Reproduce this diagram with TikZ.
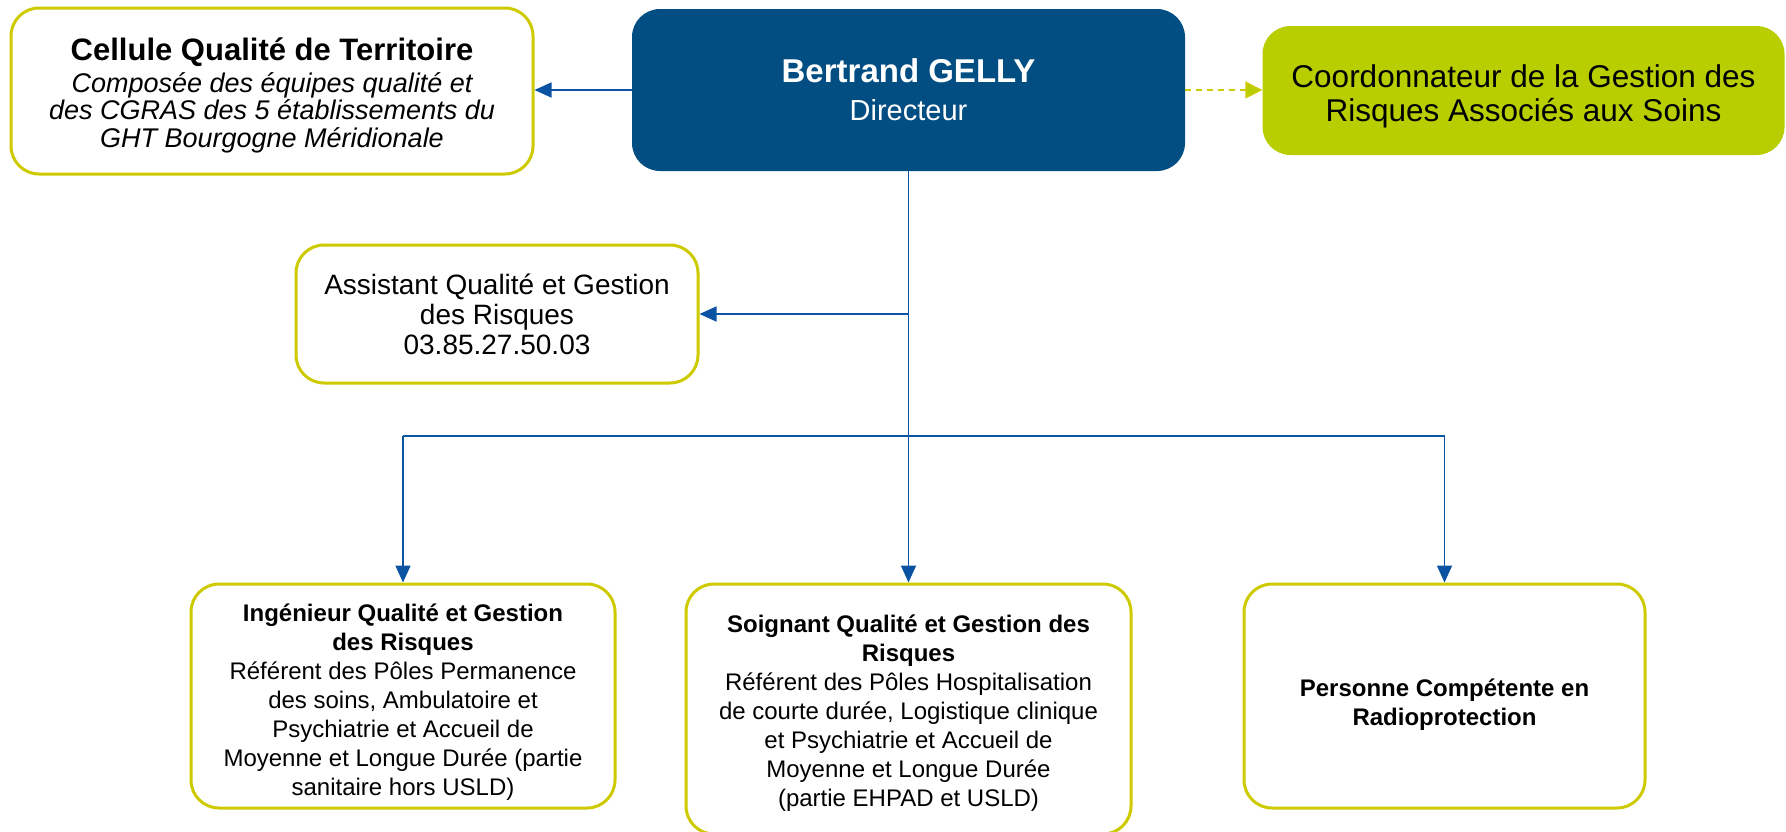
\documentclass[tikz,border=0pt]{standalone}
\usepackage{fontspec}
\setmainfont{Liberation Sans}
\usepackage{xcolor}
\usetikzlibrary{
	arrows.meta,
	positioning
}

\definecolor{dirblue}{RGB}{2,78,130}
\definecolor{lime}{RGB}{184,206,0}
\definecolor{rimyellow}{RGB}{205,202,0}
\definecolor{linkblue}{RGB}{10,82,162}

% taller first line, pushes the text block down a little
\newcommand{\pad}[1]{\rule{0pt}{#1pt}}

\tikzset{
	box/.style={draw=rimyellow, line width=3pt, fill=white, rounded corners=28pt,
		align=center, inner sep=0pt},
	small/.style={font=\fontsize{24}{29}\selectfont},
	link/.style={draw=linkblue, line width=1.6pt,
		-{Triangle[length=17pt, width=15pt]}},
	trunk/.style={draw=linkblue, line width=1.6pt},
	hint/.style={draw=rimyellow, line width=1.6pt, dash pattern=on 6pt off 5pt,
		-{Triangle[length=17pt, width=17pt, fill=lime]}}
}

\begin{document}
\begin{tikzpicture}[x=1pt, y=-1pt]
				\def\busy{436}

				\useasboundingbox (0, 0) rectangle (1786, 831) ;
				\clip (0, 0) rectangle (1786, 831) ;

				\node[box, minimum width=522pt, minimum height=166pt,
					font=\fontsize{27}{27.5}\selectfont\itshape] (cellule) at (272, 91)
					{{\fontsize{31}{27.5}\selectfont\bfseries\upshape\pad{32}Cellule Qualité de Territoire}\\[4pt]
					 Composée des équipes qualité et\\
					 des CGRAS des 5 établissements du\\
					 GHT Bourgogne Méridionale} ;
				\node[fill=dirblue, text=white, rounded corners=28pt, align=center, inner sep=0pt,
					minimum width=553pt, minimum height=162pt,
					font=\fontsize{29}{38}\selectfont] (dir) at (908.5, 90)
					{{\fontsize{33}{38}\selectfont\bfseries Bertrand GELLY}\\
					 Directeur} ;
				\node[fill=lime, rounded corners=28pt, align=center, inner sep=0pt,
					minimum width=522pt, minimum height=129pt,
					font=\fontsize{31.5}{34.5}\selectfont] (coord) at (1523.5, 90.5)
					{\pad{34.5}Coordonnateur de la Gestion des\\
					 Risques Associés aux Soins} ;
				\node[box, minimum width=402pt, minimum height=138pt,
					font=\fontsize{28}{30}\selectfont] (assist) at (497, 314)
					{Assistant Qualité et Gestion\\
					 des Risques\\
					 03.85.27.50.03} ;

				% bottom row
				\node[box, small, minimum width=424pt, minimum height=224pt] (inge) at (403, 696)
					{\pad{29.5}\textbf{Ingénieur Qualité et Gestion}\\
					 \textbf{des Risques}\\
					 Référent des Pôles Permanence\\
					 des soins, Ambulatoire et\\
					 Psychiatrie et Accueil de\\
					 Moyenne et Longue Durée (partie\\
					 sanitaire hors USLD)} ;
				\node[box, small, minimum width=445pt, minimum height=250pt] (soin) at (908.5, 709)
					{\pad{26.5}\textbf{Soignant Qualité et Gestion des}\\
					 \textbf{Risques}\\
					 Référent des Pôles Hospitalisation\\
					 de courte durée, Logistique clinique\\
					 et Psychiatrie et Accueil de\\
					 Moyenne et Longue Durée\\
					 (partie EHPAD et USLD)} ;
				\node[box, small, minimum width=401pt, minimum height=224pt] (radio) at (1444.5, 696)
					{\pad{35.5}\textbf{Personne Compétente en}\\
					 \textbf{Radioprotection}} ;

				\coordinate (bus) at (dir.south |- 0, \busy) ;

				\draw[link] (dir.west) -- (dir.west -| cellule.east) ;
				\draw[hint] (dir.east) -- (dir.east -| coord.west) ;
				\draw[trunk] (dir.south) -- (bus) ;
				\draw[link] (dir.south |- assist.east) -- (assist.east) ;
				\draw[trunk] (inge.north |- bus) -- (radio.north |- bus) ;
				\draw[link] (inge.north |- bus) -- (inge.north) ;
				\draw[link] (bus) -- (soin.north) ;
				\draw[link] (radio.north |- bus) -- (radio.north) ;
			\end{tikzpicture}
\end{document}
